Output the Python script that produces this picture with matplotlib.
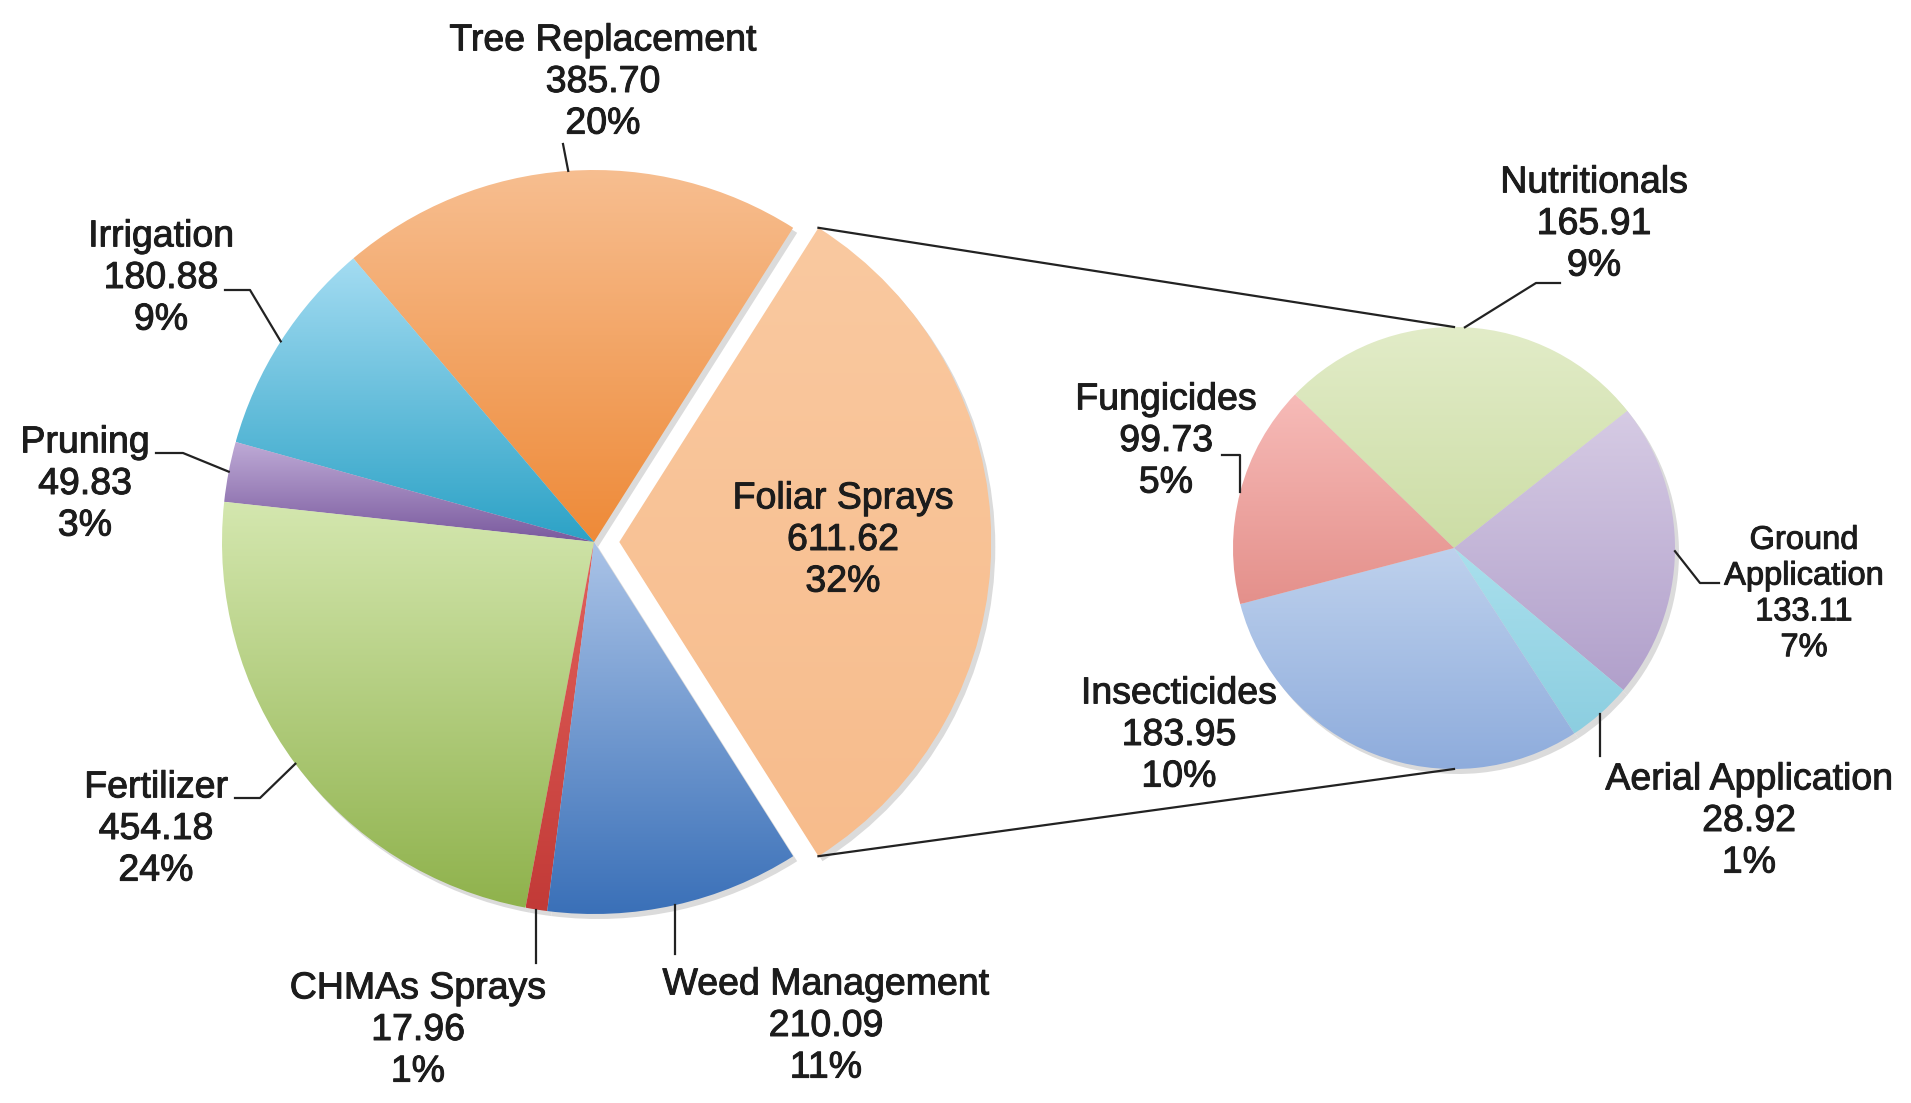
import matplotlib
matplotlib.use("Agg")
import matplotlib.pyplot as plt
import matplotlib.patheffects as pe
from matplotlib.colors import LinearSegmentedColormap
import numpy as np

plt.rcParams['font.family'] = ['Liberation Sans', 'DejaVu Sans']

# main pie (counter-clockwise from the exploded slice)
main_labels = ['Foliar Sprays', 'Tree Replacement', 'Irrigation', 'Pruning',
               'Fertilizer', 'CHMAs Sprays', 'Weed Management']
main_values = [611.62, 385.70, 180.88, 49.83, 454.18, 17.96, 210.09]
main_pct = ['32%', '20%', '9%', '3%', '24%', '1%', '11%']

# breakdown of foliar sprays (clockwise from the top)
sub_labels = ['Nutritionals', 'Ground\nApplication', 'Aerial Application',
              'Insecticides', 'Fungicides']
sub_values = [165.91, 133.11, 28.92, 183.95, 99.73]
sub_pct = ['9%', '7%', '1%', '10%', '5%']

main_cols = [('#FAC9A0', '#F7BC8C'), ('#F7BE90', '#EE8A38'), ('#A4DCF2', '#2CA2C6'),
             ('#BEAAD6', '#7A5A9E'), ('#D4E7AF', '#8FB24C'), ('#E2625C', '#C23A37'),
             ('#AAC3E7', '#3A70B8')]
sub_cols = [('#E2ECC8', '#CCDDA5'), ('#D6CBE4', '#B1A0CB'), ('#AAE0ED', '#8CCEE0'),
            ('#BED1ED', '#8EACDC'), ('#F7BBB8', '#E4908B')]

H = 1103
fig = plt.figure(figsize=(19.11, 11.03), dpi=100)
ax = fig.add_axes([0, 0, 1, 1])

c1, r1 = (594, H - 542), 372
c2, r2 = (1454, H - 548), 221
tot = sum(main_values)
start = -180 * main_values[0] / tot
# pie() takes explode as an absolute offset in data units
explode = [0.068 * r1] + [0] * (len(main_values) - 1)


def gradient_fill(w, top, bot):
    ext = w.get_path().get_extents()
    cmap = LinearSegmentedColormap.from_list('g', [bot, top])
    im = ax.imshow(np.linspace(0, 1, 256)[:, None], cmap=cmap, origin='lower',
                   extent=[ext.x0, ext.x1, ext.y0, ext.y1], aspect='auto',
                   interpolation='bilinear', zorder=2)
    im.set_clip_path(w)
    w.set_facecolor('none')


def shadow(center, r, startangle, values, explode, counterclock):
    ws, _ = ax.pie(values, center=(center[0] + 4, center[1] - 5), radius=r,
                   startangle=startangle, explode=explode, counterclock=counterclock,
                   colors=['#cfcfcf'] * len(values), wedgeprops=dict(linewidth=0))
    for w in ws:
        w.set_zorder(1)
        w.set_alpha(0.75)


shadow(c1, r1, start, main_values, explode, True)
shadow(c2, r2, 136, sub_values, None, False)

mw, _ = ax.pie(main_values, center=c1, radius=r1, startangle=start,
               explode=explode, counterclock=True, wedgeprops=dict(linewidth=0))
sw, _ = ax.pie(sub_values, center=c2, radius=r2, startangle=136,
               counterclock=False, wedgeprops=dict(linewidth=0))
for w, (t, b) in zip(mw, main_cols):
    gradient_fill(w, t, b)
for w, (t, b) in zip(sw, sub_cols):
    gradient_fill(w, t, b)

line = dict(color='#222222', lw=1.6, zorder=3)

# connector lines from the exploded slice to the secondary pie
fw = mw[0]
for ang, sy in [(fw.theta2, 1), (fw.theta1, -1)]:
    x0 = fw.center[0] + r1 * np.cos(np.radians(ang))
    y0 = fw.center[1] + r1 * np.sin(np.radians(ang))
    ax.plot([x0, c2[0]], [y0, c2[1] + sy * r2], **line)


def anchor(w):
    a = np.radians((w.theta1 + w.theta2) / 2)
    return w.center[0] + w.r * np.cos(a), w.center[1] + w.r * np.sin(a)


def leader(w, ld):
    ax0, ay0 = anchor(w)
    if ld[0] == 'v':
        pts = [(ax0, ay0), (ax0, H - ld[1])] + [(px, H - py) for px, py in ld[2:]]
    else:
        pts = [(ax0, ay0)] + [(px, H - py) for px, py in ld]
    xs, ys = zip(*pts)
    ax.plot(xs, ys, **line)


txt = dict(ha='center', va='center', color='#1c1c1c', fontsize=27, zorder=4,
           path_effects=[pe.withStroke(linewidth=0.7, foreground='#1c1c1c')])

# label positions (image coords) and leader elbows
main_pos = [(843, 540), (603, 82), (161, 278), (85, 484), (156, 829), (418, 1030), (826, 1026)]
main_lead = [None, [(563, 144)], [(250, 290), (225, 290)], [(183, 453), (156, 453)],
             [(260, 798), (235, 798)], ['v', 963], ['v', 954]]
for i, w in enumerate(mw):
    x, y = main_pos[i]
    ax.text(x, H - y, f'{main_labels[i]}\n{main_values[i]:.2f}\n{main_pct[i]}', **txt)
    if main_lead[i] is not None:
        leader(w, main_lead[i])

sub_pos = [(1594, 224), (1804, 594), (1749, 821), (1179, 735), (1166, 441)]
sub_lead = [[(1536, 283), (1560, 283)], [(1700, 583), (1719, 583)], ['v', 756], None,
            ['v', 455, (1222, 455)]]
for i, w in enumerate(sw):
    x, y = sub_pos[i]
    kw = dict(txt)
    if i == 1:
        kw['fontsize'] = 23.5
    ax.text(x, H - y, f'{sub_labels[i]}\n{sub_values[i]:.2f}\n{sub_pct[i]}', **kw)
    if sub_lead[i] is not None:
        leader(w, sub_lead[i])

ax.set_xlim(0, 1911)
ax.set_ylim(0, H)
ax.set_aspect('equal')
ax.axis('off')
fig.savefig('out.png', dpi=100, facecolor='white')
